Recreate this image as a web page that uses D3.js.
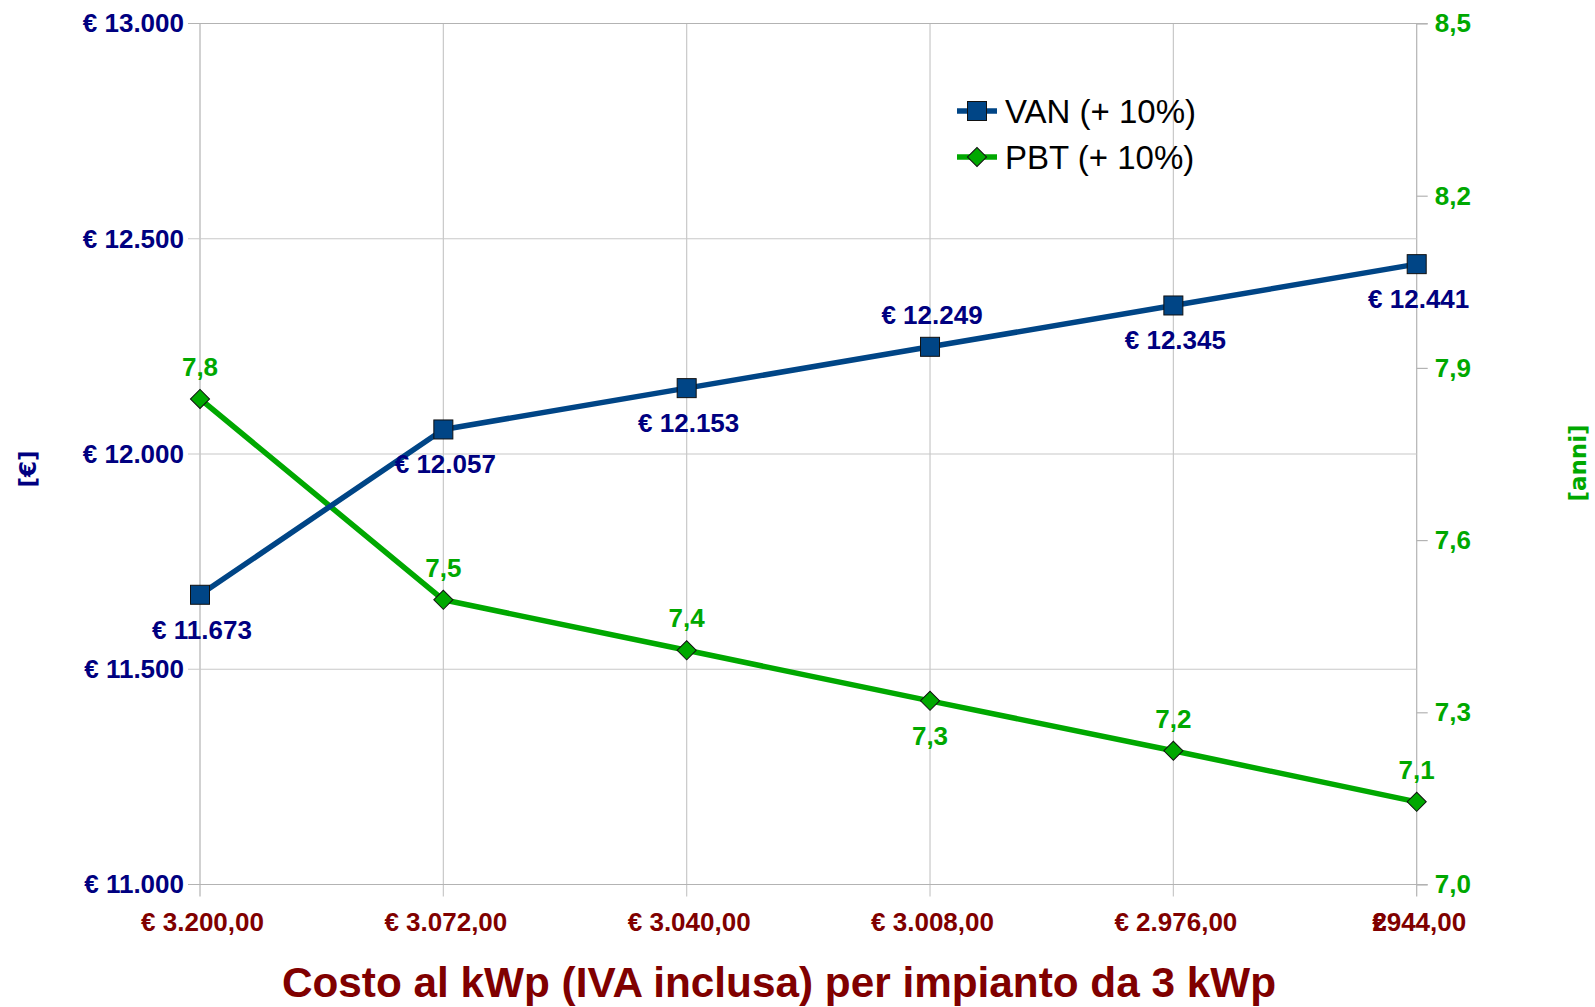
<!DOCTYPE html>
<html>
<head>
<meta charset="utf-8">
<script src="https://cdn.jsdelivr.net/npm/d3@7"></script>
<style>
  html, body { margin: 0; padding: 0; background: #fff; }
  svg { display: block; font-family: "Liberation Sans", Arial, sans-serif; }
</style>
</head>
<body>
<svg id="chart" width="1595" height="1007"></svg>
<script>
// Cost per kWp (VAT included) for a 3 kWp plant
const costs = [3200, 3072, 3040, 3008, 2976, 2944];
// Net present value, euro
const van = [11673, 12057, 12153, 12249, 12345, 12441];
// Pay-back time, years
const pbt = [7.846, 7.496, 7.408, 7.32, 7.233, 7.144];
// Axis ticks
const vanTicks = [11000, 11500, 12000, 12500, 13000];
const pbtTicks = [7.0, 7.3, 7.6, 7.9, 8.2, 8.5];
const seriesNames = ["VAN (+ 10%)", "PBT (+ 10%)"];

// which side of each point its value label sits on
const vanLabelSide = ["below", "below", "below", "above", "below", "below"];
const pbtLabelSide = ["above", "above", "above", "below", "above", "above"];

const BLUE = "#004586", GREEN = "#00a800", NAVY = "#000080", DARKRED = "#800000";
const GRID = "#c8c8c8", AXIS = "#b3b3b3";

const it = d3.formatLocale({ decimal: ",", thousands: ".", grouping: [3], currency: ["€ ", ""] });
const fmtEuro = it.format("$,.0f");
const fmtCost = it.format("$,.2f");
const fmtYears = it.format(".1f");

const svg = d3.select("#chart");
const m = { left: 200, right: 1416.7, top: 23.5, bottom: 884.5 };

const x = d3.scalePoint().domain(costs).range([m.left, m.right]);
const yL = d3.scaleLinear().domain([11000, 13000]).range([m.bottom, m.top]);
const yR = d3.scaleLinear().domain([7.0, 8.5]).range([m.bottom, m.top]);

// vertical grid lines, running past the bottom edge as tick stubs
svg.append("g").selectAll("line").data(costs).join("line")
  .attr("x1", d => x(d)).attr("x2", d => x(d))
  .attr("y1", m.top).attr("y2", m.bottom + 12)
  .attr("stroke", (d, i) => (i === 0 || i === costs.length - 1) ? AXIS : GRID)
  .attr("stroke-width", 1.2);

// horizontal grid lines from the left axis ticks
svg.append("g").selectAll("line").data(vanTicks).join("line")
  .attr("x1", m.left - 12)
  .attr("x2", d => (d === 11000 || d === 13000) ? m.right + 11 : m.right)
  .attr("y1", d => yL(d)).attr("y2", d => yL(d))
  .attr("stroke", d => (d === 11000 || d === 13000) ? AXIS : GRID)
  .attr("stroke-width", 1.2);

// left axis (euro)
const gL = svg.append("g").attr("transform", `translate(${m.left},0)`)
  .call(d3.axisLeft(yL).tickValues(vanTicks).tickFormat(fmtEuro).tickSize(0).tickPadding(16));
gL.select(".domain").remove();
gL.selectAll("text").attr("fill", NAVY).attr("font-size", 26).attr("font-weight", "bold");

// right axis (years)
const gR = svg.append("g").attr("transform", `translate(${m.right},0)`)
  .call(d3.axisRight(yR).tickValues(pbtTicks).tickFormat(fmtYears).tickSize(11).tickPadding(7));
gR.select(".domain").remove();
gR.selectAll("line").attr("stroke", AXIS).attr("stroke-width", 1.2);
gR.selectAll("text").attr("fill", GREEN).attr("font-size", 26).attr("font-weight", "bold");

// bottom axis (cost per kWp)
const gB = svg.append("g").attr("transform", `translate(0,${m.bottom})`)
  .call(d3.axisBottom(x).tickFormat(fmtCost).tickSize(0).tickPadding(28));
gB.select(".domain").remove();
gB.selectAll("text").attr("fill", DARKRED).attr("font-size", 26).attr("font-weight", "bold")
  .attr("dx", 2);
// the last label is squeezed against the edge: currency sign and first digit overprint
gB.selectAll(".tick").filter((d, i, n) => i === n.length - 1).select("text")
  .each(function (d) {
    const t = d3.select(this).text("");
    const s = fmtCost(d);            // "€ 2.944,00"
    t.append("tspan").text(s.charAt(0));
    t.append("tspan").attr("dx", -14.5).text(s.charAt(2));
    t.append("tspan").text(s.slice(4));
  });

// axis titles
svg.append("text").attr("transform", "translate(36,469) rotate(-90)")
  .attr("text-anchor", "middle").attr("fill", NAVY)
  .attr("font-family", "DejaVu Sans").attr("font-weight", "bold").attr("font-size", 23)
  .text("[€]");
svg.append("text").attr("transform", "translate(1586,463) rotate(-90)")
  .attr("text-anchor", "middle").attr("fill", GREEN)
  .attr("font-family", "DejaVu Sans").attr("font-weight", "bold").attr("font-size", 23)
  .text("[anni]");
svg.append("text").attr("x", 779).attr("y", 997)
  .attr("text-anchor", "middle").attr("fill", DARKRED)
  .attr("font-weight", "bold").attr("font-size", 42.3)
  .text("Costo al kWp (IVA inclusa) per impianto da 3 kWp");

// series lines
const lineL = d3.line().x((d, i) => x(costs[i])).y(d => yL(d));
const lineR = d3.line().x((d, i) => x(costs[i])).y(d => yR(d));

svg.append("path").datum(pbt).attr("d", lineR)
  .attr("fill", "none").attr("stroke", GREEN).attr("stroke-width", 5.5).attr("stroke-linejoin", "round");
svg.append("path").datum(van).attr("d", lineL)
  .attr("fill", "none").attr("stroke", BLUE).attr("stroke-width", 5.5).attr("stroke-linejoin", "round");

// markers
const SQ = 19, DM = 13.5;
svg.append("g").selectAll("rect").data(van).join("rect")
  .attr("x", (d, i) => x(costs[i]) - SQ / 2).attr("y", d => yL(d) - SQ / 2)
  .attr("width", SQ).attr("height", SQ)
  .attr("fill", BLUE).attr("stroke", "#111").attr("stroke-width", 1);
svg.append("g").selectAll("rect").data(pbt).join("rect")
  .attr("width", DM).attr("height", DM)
  .attr("transform", (d, i) => `translate(${x(costs[i])},${yR(d)}) rotate(45) translate(${-DM / 2},${-DM / 2})`)
  .attr("fill", GREEN).attr("stroke", "#111").attr("stroke-width", 1);

// value labels
svg.append("g").selectAll("text").data(van).join("text")
  .attr("x", (d, i) => x(costs[i]) + 2)
  .attr("y", (d, i) => yL(d) + (vanLabelSide[i] === "above" ? -23 : 44))
  .attr("text-anchor", "middle").attr("fill", NAVY)
  .attr("font-size", 26).attr("font-weight", "bold")
  .text(d => fmtEuro(d));
svg.append("g").selectAll("text").data(pbt).join("text")
  .attr("x", (d, i) => x(costs[i]))
  .attr("y", (d, i) => yR(d) + (pbtLabelSide[i] === "above" ? -23 : 44))
  .attr("text-anchor", "middle").attr("fill", GREEN)
  .attr("font-size", 26).attr("font-weight", "bold")
  .text(d => fmtYears(d));

// legend
const legend = svg.append("g").attr("transform", "translate(957,111)");
const rows = legend.selectAll("g").data(seriesNames).join("g")
  .attr("transform", (d, i) => `translate(0,${i * 46})`);
rows.append("line").attr("x1", 0).attr("x2", 40)
  .attr("stroke", (d, i) => i === 0 ? BLUE : GREEN).attr("stroke-width", 5.5);
rows.filter((d, i) => i === 0).append("rect")
  .attr("x", 20 - SQ / 2).attr("y", -SQ / 2).attr("width", SQ).attr("height", SQ)
  .attr("fill", BLUE).attr("stroke", "#111").attr("stroke-width", 1);
rows.filter((d, i) => i === 1).append("rect")
  .attr("width", DM).attr("height", DM)
  .attr("transform", `translate(20,0) rotate(45) translate(${-DM / 2},${-DM / 2})`)
  .attr("fill", GREEN).attr("stroke", "#111").attr("stroke-width", 1);
rows.append("text").attr("x", 48).attr("y", 0).attr("dy", "0.35em")
  .attr("font-size", 33).attr("fill", "#000")
  .text(d => d);
</script>
</body>
</html>
